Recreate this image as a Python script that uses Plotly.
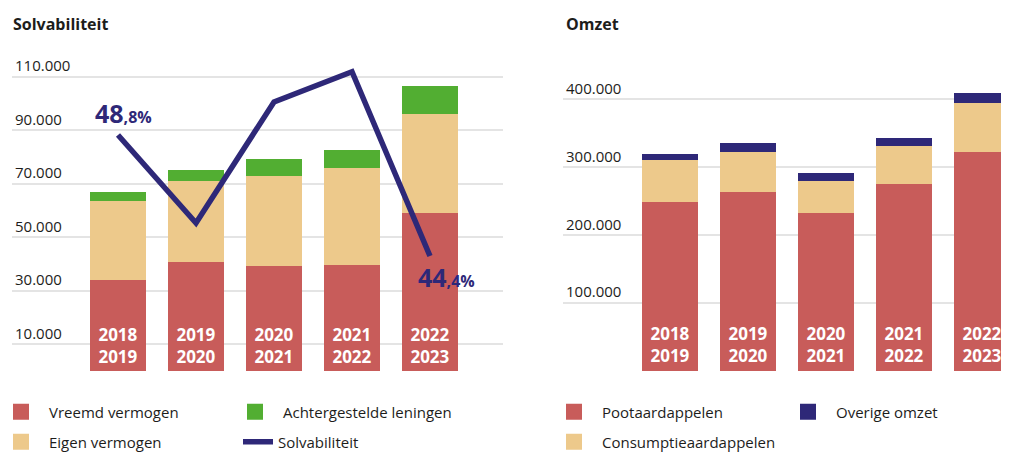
import plotly.graph_objects as go

# ---------------- data ----------------
periods = ["2018/2019", "2019/2020", "2020/2021", "2021/2022", "2022/2023"]
period_labels = ["2018<br>2019", "2019<br>2020", "2020<br>2021", "2021<br>2022", "2022<br>2023"]

# Solvabiliteit (left chart)
vreemd_vermogen = [34000, 40700, 39300, 39700, 59000]
eigen_vermogen = [29400, 30200, 33700, 36200, 37100]
achtergestelde_leningen = [3400, 4100, 6300, 6600, 10400]
solvabiliteit = [48.8, 45.6, 50.0, 51.1, 44.4]
left_ticks = [10000, 30000, 50000, 70000, 90000, 110000]

# Omzet (right chart)
pootaardappelen = [248000, 263000, 233000, 275000, 322000]
consumptieaardappelen = [63000, 59000, 46000, 56000, 72600]
overige_omzet = [8000, 13000, 13000, 12000, 15200]
right_ticks = [100000, 200000, 300000, 400000]

# ---------------- style ----------------
RED = "#C85C5A"
TAN = "#EDC98B"
GREEN = "#52AE32"
NAVY = "#2E2878"
TXT = "#1d1d1b"
GRID = "#e4e4e4"
FONT = "Open Sans"

# page body has an 8px margin: build the figure 8px smaller and shift positions
OFF = 8
W, H = 1009 - OFF, 452 - OFF

def fx(px):
    return (px - OFF) / W

def fy(py):
    return 1 - (py - OFF) / H

ydom = [fy(371), fy(40)]
bw = 0.72

fig = go.Figure()

bar_text = dict(text=period_labels, textposition="inside", insidetextanchor="start",
                textangle=0, insidetextfont=dict(color="white", size=17, family=FONT, weight="bold"))

# left chart bars
fig.add_trace(go.Bar(x=periods, y=vreemd_vermogen, marker=dict(color=RED, line=dict(width=0)),
                     width=bw, showlegend=False, xaxis="x", yaxis="y", **bar_text))
fig.add_trace(go.Bar(x=periods, y=eigen_vermogen, marker=dict(color=TAN, line=dict(width=0)),
                     width=bw, showlegend=False, xaxis="x", yaxis="y"))
fig.add_trace(go.Bar(x=periods, y=achtergestelde_leningen, marker=dict(color=GREEN, line=dict(width=0)),
                     width=bw, showlegend=False, xaxis="x", yaxis="y"))
# solvabiliteit line
fig.add_trace(go.Scatter(x=periods, y=solvabiliteit, mode="lines", name="Solvabiliteit",
                         line=dict(color=NAVY, width=5.5), xaxis="x", yaxis="y2",
                         legend="legend4", showlegend=True))

# right chart bars
fig.add_trace(go.Bar(x=periods, y=pootaardappelen, marker=dict(color=RED, line=dict(width=0)),
                     width=bw, showlegend=False, xaxis="x2", yaxis="y3", **bar_text))
fig.add_trace(go.Bar(x=periods, y=consumptieaardappelen, marker=dict(color=TAN, line=dict(width=0)),
                     width=bw, showlegend=False, xaxis="x2", yaxis="y3"))
fig.add_trace(go.Bar(x=periods, y=overige_omzet, marker=dict(color=NAVY, line=dict(width=0)),
                     width=bw, showlegend=False, xaxis="x2", yaxis="y3"))

# legend entries (square swatches)
legend_items = [
    ("Vreemd vermogen", RED, "legend"),
    ("Achtergestelde leningen", GREEN, "legend2"),
    ("Eigen vermogen", TAN, "legend3"),
    ("Pootaardappelen", RED, "legend5"),
    ("Overige omzet", NAVY, "legend6"),
    ("Consumptieaardappelen", TAN, "legend7"),
]
for name, col, lgname in legend_items:
    fig.add_trace(go.Scatter(x=[None], y=[None], mode="markers", name=name,
                             marker=dict(symbol="square", size=20, color=col),
                             legend=lgname, showlegend=True, xaxis="x", yaxis="y"))

row1 = 1 - 404 / H
row2 = 1 - 434 / H

def lg(xpx, y, itemwidth=46):
    return dict(x=xpx / W, y=y, xanchor="left", yanchor="middle", orientation="v",
                font=dict(family=FONT, size=15, color=TXT), itemsizing="trace",
                bgcolor="rgba(0,0,0,0)", borderwidth=0, itemwidth=itemwidth)

fig.update_layout(
    width=W, height=H, margin=dict(l=0, r=0, t=0, b=0, autoexpand=False),
    paper_bgcolor="white", plot_bgcolor="white",
    barmode="stack", separators=",.",
    font=dict(family=FONT, color=TXT),
    xaxis=dict(domain=[fx(12), fx(503)], range=[-1.359, 4.936], showticklabels=False,
               showgrid=False, zeroline=False, ticks="", anchor="y"),
    yaxis=dict(domain=ydom, range=[-112, 123700], tickvals=left_ticks, tickformat=",d",
               ticklabelposition="inside top", showgrid=True, gridcolor=GRID, gridwidth=1.5,
               zeroline=False, ticks="", tickfont=dict(family=FONT, size=15, color=TXT),
               anchor="x"),
    yaxis2=dict(overlaying="y", anchor="x", range=[40.218, 52.255], visible=False,
                showgrid=False, zeroline=False),
    xaxis2=dict(domain=[fx(563), 1.0], range=[-1.372, 4.346], showticklabels=False,
                showgrid=False, zeroline=False, ticks="", anchor="y3"),
    yaxis3=dict(domain=ydom, range=[-737, 487450], tickvals=right_ticks, tickformat=",d",
                ticklabelposition="inside top", showgrid=True, gridcolor=GRID, gridwidth=1.5,
                zeroline=False, ticks="", tickfont=dict(family=FONT, size=15, color=TXT),
                anchor="x2"),
    legend=lg(-15, row1),
    legend2=lg(219, row1),
    legend3=lg(-15, row2),
    legend4=lg(230, row2, itemwidth=30),
    legend5=lg(538, row1),
    legend6=lg(772, row1),
    legend7=lg(538, row2),
)

# titles
fig.add_annotation(text="<b>Solvabiliteit</b>", xref="paper", yref="paper", x=3 / W, y=1 - 15.5 / H,
                   xanchor="left", yanchor="middle", showarrow=False,
                   font=dict(family=FONT, size=16, color=TXT))
fig.add_annotation(text="<b>Omzet</b>", xref="paper", yref="paper", x=556 / W, y=1 - 15.5 / H,
                   xanchor="left", yanchor="middle", showarrow=False,
                   font=dict(family=FONT, size=16, color=TXT))

# line value labels
def pct_label(v):
    s = f"{v:.1f}".replace(".", ",")
    whole, dec = s.split(",")
    return f"<b>{whole}</b><b><span style='font-size:16px'>,{dec}%</span></b>"

fig.add_annotation(text=pct_label(solvabiliteit[0]), x=periods[0], y=solvabiliteit[0], xref="x", yref="y2",
                   xanchor="center", yanchor="middle", xshift=5, yshift=22, showarrow=False,
                   font=dict(family=FONT, size=25, color=NAVY))
fig.add_annotation(text=pct_label(solvabiliteit[-1]), x=periods[-1], y=solvabiliteit[-1], xref="x", yref="y2",
                   xanchor="center", yanchor="middle", xshift=17, yshift=-21, showarrow=False,
                   font=dict(family=FONT, size=25, color=NAVY))

fig.write_html("out.html")
